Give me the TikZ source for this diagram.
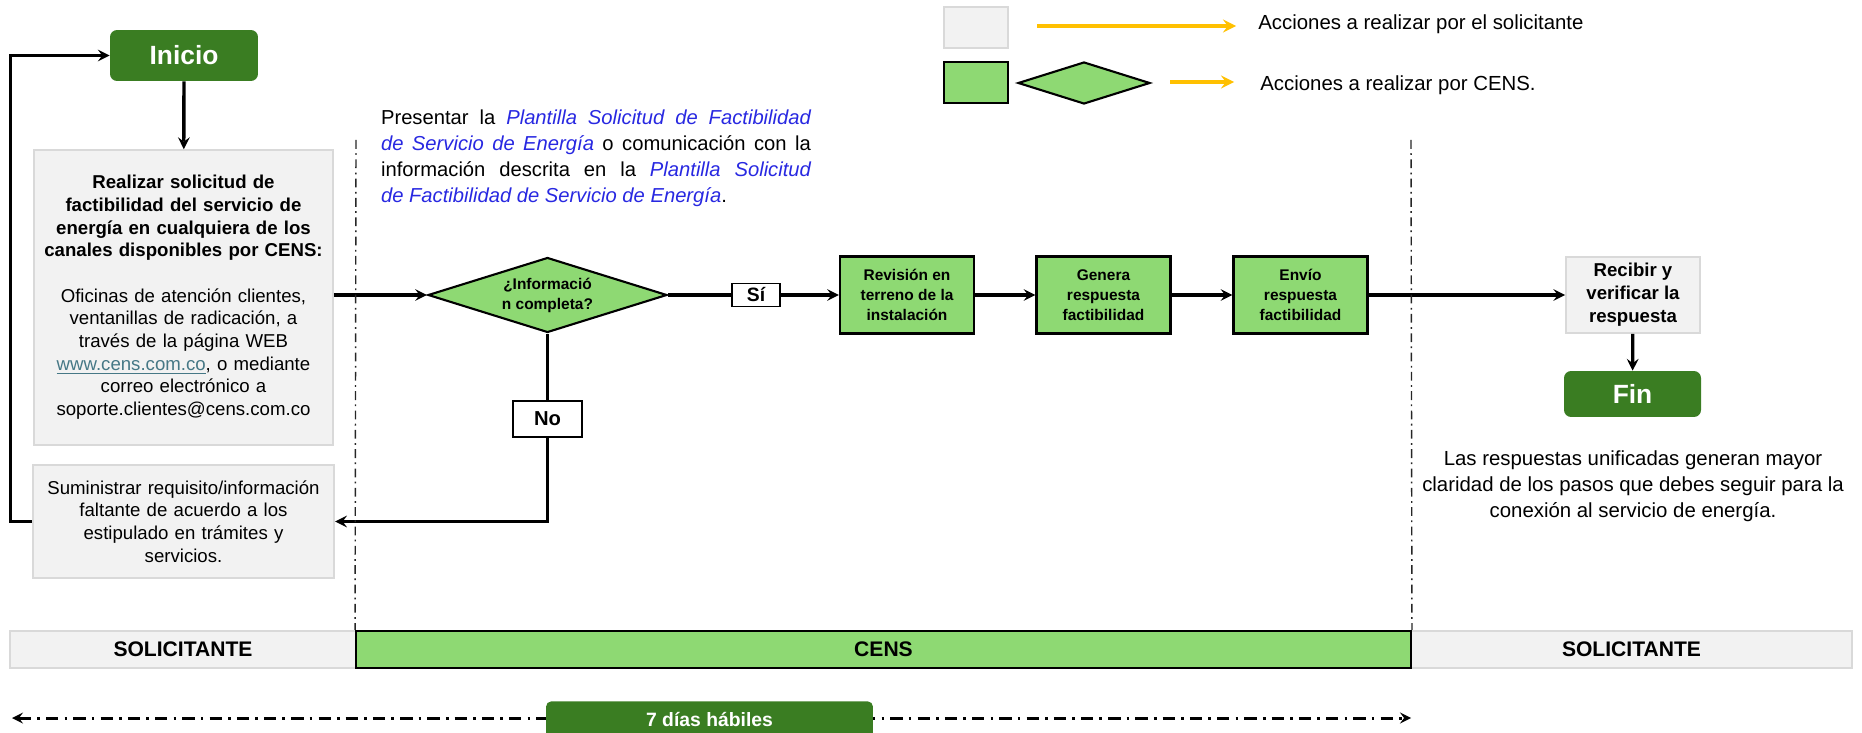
\documentclass[tikz,border=0pt]{standalone}
\usepackage{fontspec}
\setmainfont{Liberation Sans}
\usepackage{tikz}
\usetikzlibrary{calc}
\usetikzlibrary{arrows,shapes,positioning}
\tikzset{>=stealth}

\definecolor{verdeosc}{RGB}{58,125,34}
\definecolor{verdecl}{RGB}{142,217,115}
\definecolor{grisfondo}{RGB}{242,242,242}
\definecolor{grisborde}{RGB}{217,217,217}
\definecolor{amarillo}{RGB}{255,192,0}
\definecolor{azultxt}{RGB}{40,40,225}
\definecolor{enlace}{RGB}{70,120,134}

\newcommand{\txtcaja}{\fontsize{10.6}{12.9}\selectfont}
\newcommand{\txtnota}{\fontsize{11.6}{14.8}\selectfont}
\newcommand{\plantilla}[1]{\textcolor{azultxt}{\itshape #1}}

\tikzset{
  terminal/.style={rectangle,rounded corners=4pt,fill=verdeosc,text=white,
    font=\bfseries\fontsize{15}{18}\selectfont,minimum width=2.96cm,minimum height=1.02cm},
  accsol/.style={rectangle,fill=grisfondo,draw=grisborde,line width=1pt,align=center,font=\txtcaja},
  acccens/.style={rectangle,fill=verdecl,draw=black,line width=1.2pt,align=center,inner sep=1pt,
    font=\bfseries\fontsize{8.8}{11.4}\selectfont,minimum width=2.68cm,minimum height=1.54cm},
  decision/.style={diamond,aspect=3.2,fill=verdecl,draw=black,line width=1.2pt,align=center,inner sep=0pt,
    font=\bfseries\fontsize{8.8}{11.4}\selectfont},
  etiqueta/.style={rectangle,fill=white,draw=black,line width=1.1pt,inner sep=0pt},
  barra/.style={rectangle,minimum height=0.74cm,font=\bfseries\fontsize{12}{14}\selectfont},
  flecha/.style={->,line width=1.9pt},
  linea/.style={line width=1.9pt},
  divisor/.style={line width=0.8pt,black!85,dash pattern=on 5pt off 2.5pt on 1pt off 2.5pt},
  plazo/.style={<->,line width=1.7pt,dash pattern=on 7pt off 3.5pt on 1.5pt off 3.5pt},
  leyenda/.style={->,line width=2.2pt,amarillo}
}

\begin{document}
\begin{tikzpicture}[x=0.02cm,y=-0.02cm]
\useasboundingbox (0,0) rectangle (1862,733);

% leyenda
\node[accsol,minimum width=1.28cm,minimum height=0.82cm] (leggris) at (976,27.5) {};
\node[rectangle,fill=verdecl,draw=black,line width=1.2pt,minimum width=1.28cm,minimum height=0.82cm] (legverde) at (976,82.5) {};
\node[decision,minimum width=2.64cm,minimum height=0.84cm] (legrombo) at (1084,83) {};
\coordinate (legA1) at (1037,26);
\coordinate (legA2) at (1236,26);
\coordinate (legB1) at (1170,82);
\coordinate (legB2) at (1234,82);
\draw[leyenda] (legA1) -- (legA2);
\draw[leyenda] (legB1) -- (legB2);
\node[anchor=west,inner sep=0pt,font=\txtnota] (legtxt1) at (1258,24) {Acciones a realizar por el solicitante};
\node[anchor=west,inner sep=0pt,font=\txtnota] (legtxt2) at (1260,85) {Acciones a realizar por CENS.};

% texto superior
\node[text width=8.6cm,align=justify,inner sep=0pt,font=\fontsize{11.5}{14.8}\selectfont] (parrafo) at (596,158)
  {Presentar la \plantilla{Plantilla Solicitud de Factibilidad}\linebreak
   \plantilla{de Servicio de Energía} o comunicación con la\linebreak
   información descrita en la \plantilla{Plantilla Solicitud}\linebreak
   \plantilla{de Factibilidad de Servicio de Energía}.};

% solicitante
\node[terminal] (inicio) at (184,55.5) {Inicio};
\node[accsol,minimum width=5.98cm,minimum height=5.9cm,text width=5.7cm] (solicitud) at (183.5,297.5)
  {\bfseries Realizar solicitud de\\ factibilidad del servicio de\\ energía en cualquiera de los\\ canales disponibles por CENS:\\[12.9pt]
   \mdseries Oficinas de atención clientes,\\ ventanillas de radicación, a\\ través de la página WEB\\
   \textcolor{enlace}{\underline{www.cens.com.co}}, o mediante\\ correo electrónico a\\ soporte.clientes@cens.com.co};
\node[accsol,minimum width=5.98cm,minimum height=2.26cm,text width=5.8cm] (suministrar) at (183.5,521.5)
  {Suministrar requisito/información\\ faltante de acuerdo a los\\ estipulado en trámites y\\ servicios.};

% cens
\node[decision,minimum width=4.78cm,minimum height=1.5cm] (pregunta) at (547.5,295) {¿Informació\\n completa?};
\node[etiqueta,minimum width=0.96cm,minimum height=0.46cm,font=\bfseries\fontsize{11}{13}\selectfont] (si) at (756,295) {Sí};
\node[etiqueta,minimum width=1.38cm,minimum height=0.72cm,font=\bfseries\fontsize{11.5}{13}\selectfont] (no) at (547.5,419) {No};
\node[acccens] (revision) at (907,295) {Revisión en\\ terreno de la\\ instalación};
\node[acccens] (genera) at (1103.5,295) {Genera\\ respuesta\\ factibilidad};
\node[acccens] (envio) at (1300.5,295) {Envío\\ respuesta\\ factibilidad};

% solicitante final
\node[accsol,minimum width=2.68cm,minimum height=1.52cm,font=\bfseries\fontsize{10.6}{13}\selectfont] (recibir) at (1633,295)
  {Recibir y\\ verificar la\\ respuesta};
\node[terminal,minimum width=2.74cm,minimum height=0.92cm] (fin) at (1632.5,394) {Fin};
\node[align=center,inner sep=0pt,font=\txtnota] (nota) at (1633,486)
  {Las respuestas unificadas generan mayor\\ claridad de los pasos que debes seguir para la\\ conexión al servicio de energía.};

% conectores
\draw[flecha] (inicio) -- (solicitud);
\draw[flecha] (solicitud.east |- pregunta) -- (pregunta.west);
\draw[linea] (pregunta.east) -- (si.west);
\draw[flecha] (si.east) -- (revision.west);
\draw[flecha] (revision) -- (genera);
\draw[flecha] (genera) -- (envio);
\draw[flecha] (envio) -- (recibir);
\draw[flecha] (recibir) -- (fin);
\draw[linea] (pregunta.south) -- (no.north);
\draw[flecha] (no.south) |- (suministrar.east);
\draw[flecha] (suministrar.west) -- ++(-21,0) |- (inicio.west);

% franjas
\node[barra,fill=grisfondo,draw=grisborde,line width=1pt,minimum width=6.92cm] (solizq) at (183,649.5) {SOLICITANTE};
\node[barra,fill=grisfondo,draw=grisborde,line width=1pt,minimum width=8.82cm] (solder) at (1631.5,649.5) {SOLICITANTE};
\node[barra,fill=verdecl,draw=black,line width=1.2pt,minimum width=21.1cm] (cens) at (883.5,649.5) {CENS};
\coordinate (divizq) at (356,140);
\coordinate (divder) at (1411,140);
\draw[divisor] (divizq) -- (cens.north west);
\draw[divisor] (divder) -- (cens.north east);

% plazo
\coordinate (plazoizq) at (12,718);
\coordinate (plazoder) at (1411,718);
\draw[plazo] (plazoizq) -- (plazoder);
\node[rectangle,rounded corners=3pt,fill=verdeosc,text=white,font=\bfseries\fontsize{11}{13}\selectfont,
  minimum width=6.54cm,minimum height=0.9cm,anchor=north] (dias) at (709.5,701) {\raisebox{5pt}{7 días hábiles}};
\end{tikzpicture}
\end{document}
